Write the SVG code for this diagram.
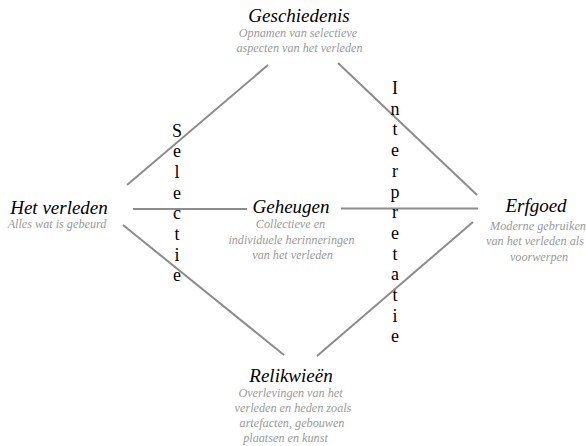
<svg xmlns="http://www.w3.org/2000/svg" width="586" height="446" viewBox="0 0 586 446">
<style>
.t{font-family:'Liberation Serif','Times New Roman',serif;font-style:italic;font-size:19px;fill:#000;text-anchor:middle}
.s{font-family:'Liberation Serif','Times New Roman',serif;font-style:italic;font-size:12.2px;fill:#9a9a9a;text-anchor:middle}
.v{font-family:'Liberation Serif','Times New Roman',serif;font-size:18px;fill:#000;text-anchor:middle}
.c{stroke:#8c8c8c;stroke-width:2;fill:none}
</style>
<rect width="586" height="446" fill="#fff"/>
<g id="connectors">
<line class="c" x1="127" y1="185" x2="268" y2="65"/>
<line class="c" x1="338" y1="63" x2="477" y2="195"/>
<line class="c" x1="133" y1="209" x2="247" y2="209"/>
<line class="c" x1="341" y1="208.5" x2="478" y2="208.5"/>
<line class="c" x1="123" y1="225" x2="284" y2="355"/>
<line class="c" x1="317" y1="356" x2="473" y2="222"/>
</g>
<g id="geschiedenis">
<text class="t" x="299" y="22">Geschiedenis</text>
<text class="s" x="298" y="36.5">Opnamen van selectieve</text>
<text class="s" x="299.5" y="52">aspecten van het verleden</text>
</g>
<g id="het-verleden">
<text class="t" x="59" y="214">Het verleden</text>
<text class="s" x="57" y="228">Alles wat is gebeurd</text>
</g>
<g id="geheugen">
<text class="t" x="291" y="213">Geheugen</text>
<text class="s" x="290.5" y="228">Collectieve en</text>
<text class="s" x="291.5" y="243.5">individuele herinneringen</text>
<text class="s" x="292.5" y="259">van het verleden</text>
</g>
<g id="erfgoed">
<text class="t" x="536" y="212">Erfgoed</text>
<text class="s" x="538" y="230">Moderne gebruiken</text>
<text class="s" x="535" y="245">van het verleden als</text>
<text class="s" x="539" y="260.5">voorwerpen</text>
</g>
<g id="relikwieen">
<text class="t" x="291" y="382">Relikwieën</text>
<text class="s" x="290.5" y="397">Overlevingen van het</text>
<text class="s" x="293" y="412">verleden en heden zoals</text>
<text class="s" x="292" y="427">artefacten, gebouwen</text>
<text class="s" x="285.5" y="442">plaatsen en kunst</text>
</g>
<g id="selectie">
<text class="v" x="177" y="136.5">S</text>
<text class="v" x="177" y="157.2">e</text>
<text class="v" x="177" y="177.9">l</text>
<text class="v" x="177" y="198.6">e</text>
<text class="v" x="177" y="219.3">c</text>
<text class="v" x="177" y="240">t</text>
<text class="v" x="177" y="260.7">i</text>
<text class="v" x="177" y="281.4">e</text>
</g>
<g id="interpretatie">
<text class="v" x="395" y="94">I</text>
<text class="v" x="395" y="114.7">n</text>
<text class="v" x="395" y="135.4">t</text>
<text class="v" x="395" y="156.1">e</text>
<text class="v" x="395" y="176.8">r</text>
<text class="v" x="395" y="197.5">p</text>
<text class="v" x="395" y="218.2">r</text>
<text class="v" x="395" y="238.9">e</text>
<text class="v" x="395" y="259.6">t</text>
<text class="v" x="395" y="280.3">a</text>
<text class="v" x="395" y="301">t</text>
<text class="v" x="395" y="321.7">i</text>
<text class="v" x="395" y="342.4">e</text>
</g>
</svg>
